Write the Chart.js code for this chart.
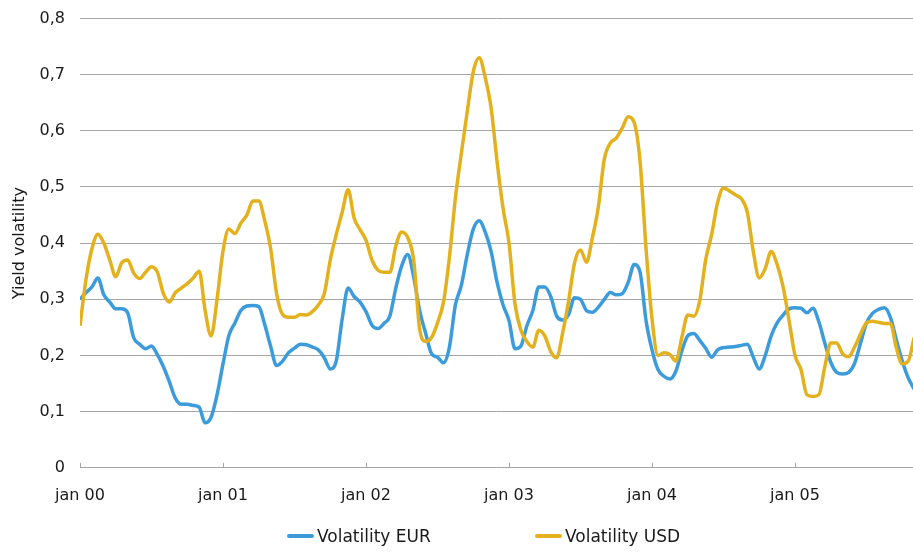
<!DOCTYPE html>
<html>
<head>
<meta charset="utf-8">
<title>Yield volatility</title>
<script src="https://cdn.jsdelivr.net/npm/chart.js@4/dist/chart.umd.min.js"></script>
<style>
  html, body { margin: 0; padding: 0; background: #fff; }
  #wrap { position: relative; width: 913px; height: 552px; }
  #volChart { display: block; }
  #legend {
    position: absolute; left: 287px; top: 526px;
    display: flex; align-items: center;
    font: 17px "DejaVu Sans", sans-serif; color: #1a1a1a;
  }
  #legend .item { display: flex; align-items: center; }
  #legend .item:first-child { width: 248px; }
  #legend .swatch { width: 27px; height: 4px; border-radius: 2px; margin-right: 3px; }
</style>
</head>
<body>
<div id="wrap">
  <canvas id="volChart" width="913" height="552"></canvas>
  <div id="legend"></div>
</div>
<script>
// tick labels, one per january
const YEAR_LABELS = ["jan 00", "jan 01", "jan 02", "jan 03", "jan 04", "jan 05"];

// half-monthly readings from jan 2000 (index i = month i/2)
const volEur = [
  0.300, 0.312, 0.322, 0.338, 0.308, 0.295, 0.283, 0.283, 0.276, 0.232,
  0.220, 0.212, 0.217, 0.201, 0.180, 0.153, 0.124, 0.113, 0.113, 0.111,
  0.108, 0.080, 0.090, 0.130, 0.185, 0.236, 0.258, 0.280, 0.288, 0.289,
  0.287, 0.255, 0.216, 0.182, 0.190, 0.205, 0.213, 0.220, 0.219, 0.215,
  0.210, 0.196, 0.176, 0.190, 0.265, 0.320, 0.305, 0.295, 0.278, 0.254,
  0.248, 0.257, 0.270, 0.320, 0.360, 0.380, 0.340, 0.280, 0.240, 0.203,
  0.197, 0.187, 0.215, 0.290, 0.325, 0.380, 0.425, 0.440, 0.420, 0.385,
  0.330, 0.290, 0.262, 0.212, 0.217, 0.253, 0.280, 0.322, 0.322, 0.305,
  0.270, 0.263, 0.273, 0.303, 0.300, 0.280, 0.277, 0.286, 0.300, 0.312,
  0.308, 0.310, 0.330, 0.362, 0.348, 0.262, 0.210, 0.175, 0.163, 0.158,
  0.172, 0.208, 0.235, 0.239, 0.227, 0.213, 0.197, 0.210, 0.214, 0.215,
  0.216, 0.218, 0.220, 0.197, 0.176, 0.200, 0.235, 0.258, 0.272, 0.283,
  0.285, 0.284, 0.276, 0.284, 0.260, 0.222, 0.188, 0.170, 0.167, 0.170,
  0.186, 0.222, 0.258, 0.275, 0.282, 0.285, 0.268, 0.228, 0.190, 0.160,
  0.140
];

const volUsd = [
  0.253, 0.335, 0.390, 0.416, 0.400, 0.370, 0.340, 0.365, 0.370, 0.347,
  0.337, 0.348, 0.358, 0.348, 0.310, 0.295, 0.312, 0.320, 0.328, 0.338,
  0.350, 0.280, 0.235, 0.300, 0.386, 0.425, 0.417, 0.436, 0.450, 0.475,
  0.475, 0.440, 0.390, 0.310, 0.273, 0.268, 0.268, 0.273, 0.272, 0.278,
  0.290, 0.310, 0.370, 0.415, 0.455, 0.495, 0.445, 0.424, 0.405, 0.370,
  0.352, 0.348, 0.348, 0.395, 0.420, 0.410, 0.370, 0.247, 0.225, 0.232,
  0.258, 0.295, 0.375, 0.480, 0.560, 0.635, 0.705, 0.730, 0.695, 0.640,
  0.545, 0.462, 0.400, 0.292, 0.245, 0.225, 0.215, 0.245, 0.235, 0.207,
  0.196, 0.240, 0.297, 0.365, 0.388, 0.366, 0.410, 0.465, 0.550, 0.578,
  0.587, 0.605, 0.625, 0.615, 0.545, 0.390, 0.265, 0.200, 0.205, 0.202,
  0.190, 0.232, 0.272, 0.270, 0.297, 0.370, 0.415, 0.472, 0.498, 0.493,
  0.486, 0.479, 0.455, 0.385, 0.338, 0.355, 0.385, 0.362, 0.322, 0.262,
  0.200, 0.175, 0.130, 0.127, 0.130, 0.180, 0.222, 0.222, 0.203, 0.198,
  0.215, 0.238, 0.258, 0.261, 0.259, 0.257, 0.257, 0.214, 0.185, 0.190,
  0.232
];

const COLORS = {
  eur: "#3b9bdb",
  usd: "#e4b11e",
  grid: "#a6a6a6",
  text: "#1a1a1a",
};
const FONT = "'DejaVu Sans', sans-serif";

function toPoints(values) {
  return values.map((v, i) => ({ x: i / 2, y: v }));
}

function fmtComma(v) {
  return v === 0 ? "0" : v.toFixed(1).replace(".", ",");
}

// short tick marks standing up from the x axis line
const innerTicks = {
  id: "innerTicks",
  afterDraw(chart) {
    const { ctx, chartArea } = chart;
    const xs = chart.scales.x;
    ctx.save();
    ctx.strokeStyle = COLORS.grid;
    ctx.lineWidth = 1;
    xs.ticks.forEach((t) => {
      const px = Math.round(xs.getPixelForValue(t.value)) + 0.5;
      ctx.beginPath();
      ctx.moveTo(px, chartArea.bottom);
      ctx.lineTo(px, chartArea.bottom - 5);
      ctx.stroke();
    });
    ctx.restore();
  },
};

// legend as html below the canvas, in dataset order
const htmlLegend = {
  id: "htmlLegend",
  afterUpdate(chart) {
    const box = document.getElementById("legend");
    box.innerHTML = "";
    chart.data.datasets.forEach((ds) => {
      const el = document.createElement("div");
      el.className = "item";
      const sw = document.createElement("span");
      sw.className = "swatch";
      sw.style.background = ds.borderColor;
      const txt = document.createElement("span");
      txt.textContent = ds.label;
      el.appendChild(sw);
      el.appendChild(txt);
      box.appendChild(el);
    });
  },
};

new Chart(document.getElementById("volChart"), {
  type: "line",
  data: {
    datasets: [
      {
        label: "Volatility EUR",
        data: toPoints(volEur),
        borderColor: COLORS.eur,
        backgroundColor: COLORS.eur,
        borderWidth: 3.5,
        pointRadius: 0,
        cubicInterpolationMode: "monotone",
        order: 2,
      },
      {
        label: "Volatility USD",
        data: toPoints(volUsd),
        borderColor: COLORS.usd,
        backgroundColor: COLORS.usd,
        borderWidth: 3.5,
        pointRadius: 0,
        cubicInterpolationMode: "monotone",
        order: 1,
      },
    ],
  },
  options: {
    responsive: false,
    animation: false,
    layout: { padding: { top: 18.5, right: 0, bottom: 37, left: 0 } },
    plugins: {
      legend: { display: false },
      tooltip: { enabled: false },
    },
    scales: {
      x: {
        type: "linear",
        min: 0,
        max: 69.9,
        grid: { display: false },
        border: { display: false },
        afterBuildTicks: (scale) => {
          scale.ticks = YEAR_LABELS.map((_, i) => ({ value: i * 12 }));
        },
        ticks: {
          autoSkip: false,
          maxRotation: 0,
          padding: 10,
          color: COLORS.text,
          font: { family: FONT, size: 16 },
          callback: (v) => YEAR_LABELS[Math.round(v / 12)],
        },
      },
      y: {
        min: 0,
        max: 0.8,
        afterFit: (scale) => {
          scale.width = 80;
          scale.paddingTop = 0;
          scale.paddingBottom = 0;
        },
        grid: { color: COLORS.grid, lineWidth: 1, drawTicks: false },
        border: { display: false },
        ticks: {
          stepSize: 0.1,
          padding: 15,
          color: COLORS.text,
          font: { family: FONT, size: 16 },
          callback: (v) => fmtComma(v),
        },
        title: {
          display: true,
          text: "Yield volatility",
          color: COLORS.text,
          font: { family: FONT, size: 16 },
          padding: { top: 10, bottom: 0 },
        },
      },
    },
  },
  plugins: [innerTicks, htmlLegend],
});
</script>
</body>
</html>
